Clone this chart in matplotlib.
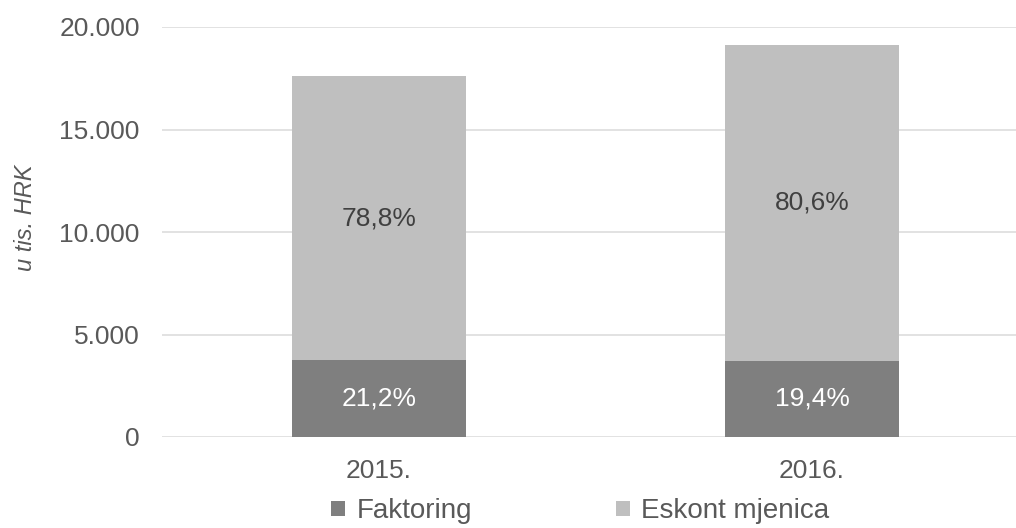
import numpy as np
import matplotlib
matplotlib.use("Agg")
import matplotlib.pyplot as plt

plt.rcParams['font.family'] = ['Liberation Sans', 'DejaVu Sans']

# data (u tis. HRK)
years = ['2015.', '2016.']
faktoring = [3740, 3710]
eskont = [13880, 15410]

col_fak = '#7f7f7f'
col_esk = '#bfbfbf'
txt = '#595959'

fig = plt.figure(figsize=(10.16, 5.28), dpi=100)
ax = fig.add_axes([162/1016, 91/528, 1 - 162/1016, 410/528])

x = np.arange(len(years))
w = 0.40
ax.bar(x, faktoring, w, color=col_fak, label='Faktoring', zorder=3)
ax.bar(x, eskont, w, bottom=faktoring, color=col_esk, label='Eskont mjenica', zorder=3)

# percentage labels
for i in range(len(years)):
    tot = faktoring[i] + eskont[i]
    p1 = f"{faktoring[i] / tot * 100:.1f}%".replace('.', ',')
    p2 = f"{eskont[i] / tot * 100:.1f}%".replace('.', ',')
    ax.text(x[i], faktoring[i] / 2, p1, ha='center', va='center',
            color='white', fontsize=19, zorder=4)
    ax.text(x[i], faktoring[i] + eskont[i] / 2, p2, ha='center', va='center',
            color='#404040', fontsize=19, zorder=4)

ax.set_xlim(-0.501, 1.471)
ax.set_ylim(0, 20000)
ax.set_yticks([0, 5000, 10000, 15000, 20000])
ax.set_yticklabels(['0', '5.000', '10.000', '15.000', '20.000'])
ax.set_xticks(x)
ax.set_xticklabels(years)
ax.tick_params(axis='both', length=0, labelsize=19, colors=txt)
ax.tick_params(axis='y', pad=16)
ax.tick_params(axis='x', pad=16)
ax.yaxis.grid(True, color='#dddddd', linewidth=1.2, zorder=0)
for s in ax.spines.values():
    s.set_visible(False)

fig.text(26/1016, 1 - 218/528, 'u tis. HRK', rotation=90, ha='center', va='center',
         fontsize=17, style='italic', color=txt)

leg = ax.legend(loc='lower center', bbox_to_anchor=(0.49, -0.24), ncol=2,
                frameon=False, fontsize=20, handlelength=0.5, handleheight=0.5,
                handletextpad=0.4, columnspacing=5.2, borderaxespad=0)
for t in leg.get_texts():
    t.set_color(txt)

fig.savefig('out.png', dpi=100)
